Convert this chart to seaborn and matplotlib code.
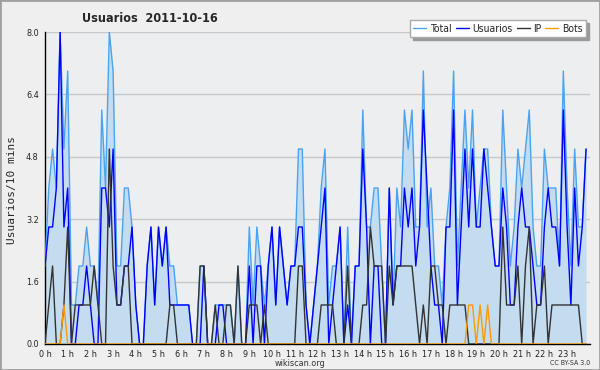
import pandas as pd
import seaborn as sns
import matplotlib.pyplot as plt
from matplotlib.patches import Rectangle
from matplotlib.ticker import MultipleLocator, FormatStrFormatter

# usuarios cada 10 minutos (144 puntos, 2011-10-16)
total = [2, 4, 5, 4, 8, 5, 7, 1, 1, 2, 2, 3, 2, 2, 1, 6, 4, 8, 7, 2, 2, 4, 4, 3,
         1, 0, 0, 2, 3, 1, 3, 2, 3, 2, 2, 1, 1, 1, 1, 0, 0, 2, 2, 0, 0, 1, 1, 1,
         1, 1, 0, 2, 0, 0, 3, 1, 3, 2, 1, 2, 3, 1, 3, 2, 1, 2, 2, 5, 5, 1, 0, 1,
         2, 4, 5, 1, 2, 2, 3, 0, 3, 0, 2, 2, 6, 3, 3, 4, 4, 2, 0, 4, 1, 4, 3, 6,
         5, 6, 3, 3, 7, 3, 4, 2, 2, 1, 3, 4, 7, 2, 4, 6, 4, 6, 3, 4, 5, 5, 3, 2,
         2, 6, 4, 2, 3, 5, 4, 5, 6, 3, 2, 2, 5, 4, 4, 4, 2, 7, 4, 2, 5, 3, 3, 5]
usuarios = [2, 3, 3, 4, 8, 3, 4, 0, 0, 1, 1, 2, 1, 0, 0, 4, 4, 3, 5, 1, 1, 2, 2, 3,
            1, 0, 0, 2, 3, 1, 3, 2, 3, 1, 1, 1, 1, 1, 1, 0, 0, 0, 2, 0, 0, 0, 1, 1,
            0, 0, 0, 0, 0, 0, 2, 0, 2, 2, 0, 2, 3, 1, 3, 2, 1, 2, 2, 3, 3, 1, 0, 1,
            2, 3, 4, 0, 1, 2, 3, 0, 1, 0, 2, 2, 5, 3, 0, 2, 2, 0, 0, 4, 1, 2, 2, 4,
            3, 4, 2, 3, 6, 4, 2, 1, 1, 0, 3, 3, 6, 1, 3, 5, 3, 5, 3, 3, 5, 4, 3, 2,
            2, 4, 3, 1, 1, 3, 4, 3, 3, 2, 1, 1, 3, 4, 3, 3, 2, 6, 3, 1, 4, 2, 3, 5]
ip = [0, 1, 2, 0, 0, 1, 3, 0, 1, 1, 1, 1, 1, 2, 1, 0, 0, 5, 2, 1, 1, 2, 2, 0,
      0, 0, 0, 0, 0, 0, 0, 0, 0, 1, 1, 0, 0, 0, 0, 0, 0, 2, 2, 0, 0, 1, 0, 0,
      1, 1, 0, 2, 0, 0, 1, 1, 1, 0, 1, 0, 0, 0, 0, 0, 0, 0, 0, 2, 2, 0, 0, 0,
      0, 1, 1, 1, 1, 0, 0, 0, 2, 0, 0, 0, 1, 1, 3, 2, 2, 2, 0, 2, 1, 2, 2, 2,
      2, 2, 1, 0, 1, 0, 2, 2, 1, 1, 0, 1, 1, 1, 1, 1, 0, 0, 0, 0, 0, 0, 0, 0,
      0, 3, 1, 1, 1, 2, 0, 2, 3, 0, 1, 1, 2, 0, 1, 1, 1, 1, 1, 1, 1, 1, 0, 0]
bots = [0, 0, 0, 0, 0, 1, 0, 0, 0, 0, 0, 0, 0, 0, 0, 0, 0, 0, 0, 0, 0, 0, 0, 0,
        0, 0, 0, 0, 0, 0, 0, 0, 0, 0, 0, 0, 0, 0, 0, 0, 0, 0, 0, 0, 0, 0, 0, 0,
        0, 0, 0, 0, 0, 0, 0, 0, 0, 0, 0, 0, 0, 0, 0, 0, 0, 0, 0, 0, 0, 0, 0, 0,
        0, 0, 0, 0, 0, 0, 0, 0, 0, 0, 0, 0, 0, 0, 0, 0, 0, 0, 0, 0, 0, 0, 0, 0,
        0, 0, 0, 0, 0, 0, 0, 0, 0, 0, 0, 0, 0, 0, 0, 0, 1, 1, 0, 1, 0, 1, 0, 0,
        0, 0, 0, 0, 0, 0, 0, 0, 0, 0, 0, 0, 0, 0, 0, 0, 0, 0, 0, 0, 0, 0, 0, 0]
horas = [f'{h} h' for h in range(24)]

df = pd.DataFrame({'t': range(len(total)), 'Total': total, 'Usuarios': usuarios,
                   'IP': ip, 'Bots': bots})

sns.set_style('white')
plt.rcParams['font.family'] = ['DejaVu Sans']
plt.rcParams['font.stretch'] = 'condensed'

fig = plt.figure(figsize=(6, 3.7), dpi=100, facecolor='#efefef')
ax = fig.add_axes([0.075, 0.0703, 0.908, 0.8432])
ax.set_facecolor('#eceef0')

colores = {'Total': '#4aa3f0', 'Usuarios': '#0000ff', 'IP': '#333333', 'Bots': '#ff9900'}
ax.fill_between(df['t'], df['Total'], color='#c4dcf0', lw=0, zorder=1)
for col in ['Total', 'Usuarios', 'IP', 'Bots']:
    sns.lineplot(data=df, x='t', y=col, color=colores[col], lw=1, label=col, ax=ax, zorder=3)

ax.set_xlim(0, 144)
ax.set_ylim(0, 8)
ax.set_xticks(range(0, 144, 6))
ax.set_xticklabels(horas)
ax.xaxis.set_minor_locator(MultipleLocator(1))
ax.yaxis.set_major_locator(MultipleLocator(1.6))
ax.yaxis.set_minor_locator(MultipleLocator(0.4))
ax.yaxis.set_major_formatter(FormatStrFormatter('%.1f'))
ax.tick_params(axis='both', which='major', direction='out', length=4, width=0.8,
               labelsize=6.5, pad=0.5, colors='#222222')
ax.tick_params(axis='both', which='minor', direction='out', length=2.5, width=0.8)
ax.yaxis.grid(True, color='#c8c8c8', lw=1)
ax.set_axisbelow(True)
for s in ['top', 'right']:
    ax.spines[s].set_visible(False)
for s in ['left', 'bottom']:
    ax.spines[s].set_color('black')
    ax.spines[s].set_linewidth(1)
ax.set_xlabel('')
ax.set_ylabel('')

leg = ax.legend(loc='upper right', bbox_to_anchor=(0.977, 1 - 20 / 370), bbox_transform=fig.transFigure,
                borderaxespad=0, ncol=4, fontsize=7.5, frameon=True, fancybox=False,
                shadow={'color': '#9a9a9a', 'alpha': 1},
                handlelength=1.25, columnspacing=0.4, handletextpad=0.33, borderpad=0.35)
leg.get_frame().set_edgecolor('#aaaaaa')
leg.get_frame().set_facecolor('white')

fig.text(0.25, 1 - 18 / 370, 'Usuarios  2011-10-16', ha='center', va='center',
         fontsize=9, weight='bold')
fig.text(12 / 600, 1 - 190 / 370, 'Usuarios/10 mins', rotation=90, ha='center', va='center',
         family='DejaVu Sans Mono', fontsize=8)
fig.text(0.5, 1 - 363 / 370, 'wikiscan.org', ha='center', va='center', fontsize=6.5, color='#333333')
fig.text(0.983, 1 - 363 / 370, 'CC BY-SA 3.0', ha='right', va='center', fontsize=5, color='#333333')
fig.patches.append(Rectangle((0, 0), 1, 1, transform=fig.transFigure, fill=False,
                             edgecolor='#a0a0a0', lw=2))

fig.savefig('out.png', dpi=100, facecolor=fig.get_facecolor())
